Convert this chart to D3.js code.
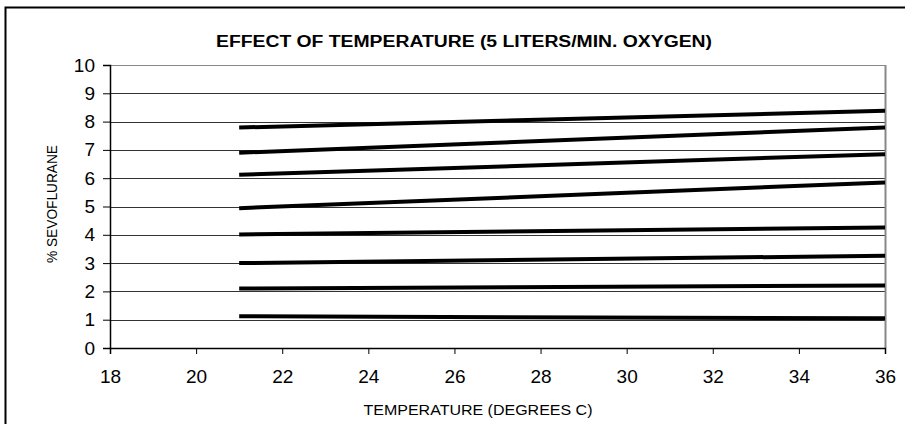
<!DOCTYPE html>
<html>
<head>
<meta charset="utf-8">
<script src="https://cdn.jsdelivr.net/npm/d3@7"></script>
<style>
  body { margin: 0; background: #fff; }
  text { font-family: Arial, "Liberation Sans", sans-serif; }
</style>
</head>
<body>
<div id="chart"></div>
<script>
// readings taken at 21 and 36 degrees C
const temps = [21, 36];
const line1 = [1.12, 1.05];
const line2 = [2.10, 2.21];
const line3 = [3.00, 3.26];
const line4 = [4.01, 4.26];
const line5 = [4.94, 5.85];
const line6 = [6.12, 6.85];
const line7 = [6.90, 7.79];
const line8 = [7.79, 8.38];
const allLines = [line1, line2, line3, line4, line5, line6, line7, line8];

const xTicks = [18, 20, 22, 24, 26, 28, 30, 32, 34, 36];
const yTicks = [0, 1, 2, 3, 4, 5, 6, 7, 8, 9, 10];

const W = 905, H = 424;
const margin = { top: 65, right: 20, bottom: 76, left: 110 },
      width = 885 - margin.left,
      height = 348 - margin.top;

const svg = d3.select("#chart")
              .append("svg")
              .attr("width", W)
              .attr("height", H);

// outer frame (runs off the right and bottom of the picture)
svg.append("path")
   .attr("d", `M5.5,${H + 5} V7.5 H${W + 5}`)
   .attr("fill", "none")
   .attr("stroke", "#000")
   .attr("stroke-width", 2);

const g = svg.append("g")
             .attr("transform", `translate(${margin.left},${margin.top})`);

const x = d3.scaleLinear().domain([18, 36]).range([0, width]);
const y = d3.scaleLinear().domain([0, 10]).range([height, 0]);

// gridlines
g.append("g")
 .selectAll("line")
 .data(yTicks.filter(d => d > 0))
 .join("line")
 .attr("x1", 0)
 .attr("x2", width)
 .attr("y1", d => Math.round(y(d)) + 0.5)
 .attr("y2", d => Math.round(y(d)) + 0.5)
 .attr("stroke", d => d === 10 ? "#888" : "#333")
 .attr("stroke-width", 1);

// right edge of plot area
g.append("line")
 .attr("x1", width + 0.5).attr("x2", width + 0.5)
 .attr("y1", y(10)).attr("y2", height)
 .attr("stroke", "#888")
 .attr("stroke-width", 2);

const yAxis = g.append("g")
 .call(d3.axisLeft(y).tickValues(yTicks).tickSize(7).tickPadding(8).tickFormat(d3.format("d")));
yAxis.select(".domain").attr("stroke", "#000").attr("stroke-width", 1.5);
yAxis.selectAll("text").attr("font-size", 19).attr("fill", "#000")
     .attr("font-family", "Arial, 'Liberation Sans', sans-serif");

const xAxis = g.append("g")
 .attr("transform", `translate(0,${height})`)
 .call(d3.axisBottom(x).tickValues(xTicks).tickSize(6).tickPadding(16).tickFormat(d3.format("d")));
xAxis.select(".domain").attr("stroke", "#000").attr("stroke-width", 1.5);
xAxis.selectAll("text").attr("font-size", 19).attr("fill", "#000")
     .attr("font-family", "Arial, 'Liberation Sans', sans-serif");

// data lines
const line = d3.line()
               .x((d, i) => x(temps[i]))
               .y(d => y(d));

g.append("g")
 .selectAll("path")
 .data(allLines)
 .join("path")
 .attr("fill", "none")
 .attr("stroke", "#000")
 .attr("stroke-width", 4)
 .attr("d", line);

// titles
svg.append("text")
   .attr("x", 464)
   .attr("y", 47)
   .attr("text-anchor", "middle")
   .attr("font-size", 16)
   .attr("font-weight", "bold")
   .attr("textLength", 496)
   .attr("lengthAdjust", "spacingAndGlyphs")
   .text("EFFECT OF TEMPERATURE (5 LITERS/MIN. OXYGEN)");

svg.append("text")
   .attr("x", 478)
   .attr("y", 415)
   .attr("text-anchor", "middle")
   .attr("font-size", 14)
   .attr("textLength", 229)
   .attr("lengthAdjust", "spacingAndGlyphs")
   .text("TEMPERATURE (DEGREES C)");

svg.append("text")
   .attr("transform", "translate(57,204) rotate(-90)")
   .attr("text-anchor", "middle")
   .attr("font-size", 14)
   .attr("textLength", 118)
   .attr("lengthAdjust", "spacingAndGlyphs")
   .text("% SEVOFLURANE");
</script>
</body>
</html>
